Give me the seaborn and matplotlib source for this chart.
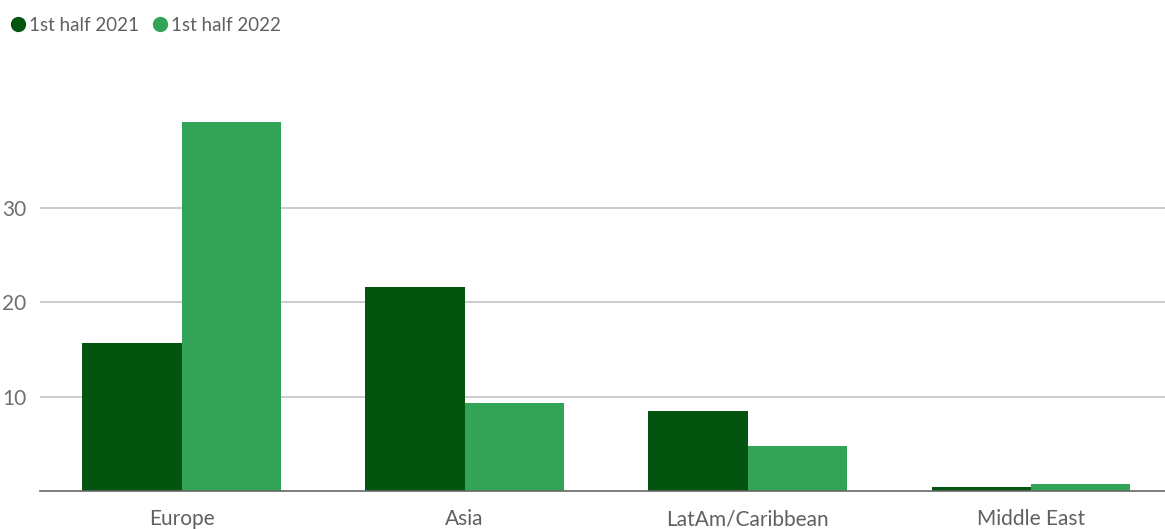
import matplotlib
matplotlib.use("Agg")
import matplotlib.pyplot as plt
from matplotlib.lines import Line2D
import seaborn as sns
import pandas as pd

categories = ["Europe", "Asia", "LatAm/Caribbean", "Middle East"]
series = ["1st half 2021", "1st half 2022"]
values_2021 = [15.7, 21.6, 8.5, 0.4]
values_2022 = [39.1, 9.3, 4.8, 0.75]
yticks = [10, 20, 30]
colors = ["#02540F", "#33A457"]

df = pd.DataFrame({
    "region": categories * 2,
    "period": [series[0]] * 4 + [series[1]] * 4,
    "value": values_2021 + values_2022,
})

sns.set_style("white")
plt.rcParams["font.family"] = ["Lato", "DejaVu Sans"]

fig = plt.figure(figsize=(11.65, 5.29), dpi=100)
ax = fig.add_axes([40 / 1165, (529 - 491) / 529, 1125 / 1165, (491 - 95) / 529])

sns.barplot(data=df, x="region", y="value", hue="period", palette=colors,
            width=0.70, saturation=1, ax=ax, legend=False, edgecolor="none")

ax.set_xlim(-0.5, 3.475)
ax.set_ylim(0, 42)
ax.set_yticks(yticks)
ax.set_yticklabels([str(t) for t in yticks])
ax.yaxis.grid(True, color="#c8c8c8", linewidth=1.3)
ax.set_axisbelow(True)
for s in ["top", "right", "left"]:
    ax.spines[s].set_visible(False)
ax.spines["bottom"].set_color("#666666")
ax.spines["bottom"].set_linewidth(1.2)
ax.tick_params(axis="y", length=0, pad=10, labelsize=15, labelcolor="#707070")
ax.tick_params(axis="x", length=0, pad=13, labelsize=15, labelcolor="#606060")
ax.set_xlabel("")
ax.set_ylabel("")

handles = [Line2D([0], [0], marker="o", linestyle="", markersize=10,
                  markerfacecolor=c, markeredgecolor=c) for c in colors]
leg = fig.legend(handles, series, loc="upper left", bbox_to_anchor=(-0.007, 1.0),
                 ncol=2, frameon=False, fontsize=13.5, handletextpad=0.1,
                 columnspacing=0.6, handlelength=1.0, borderaxespad=0.5)
for t in leg.get_texts():
    t.set_color("#606060")

fig.savefig("out.png", dpi=100, facecolor="white")
